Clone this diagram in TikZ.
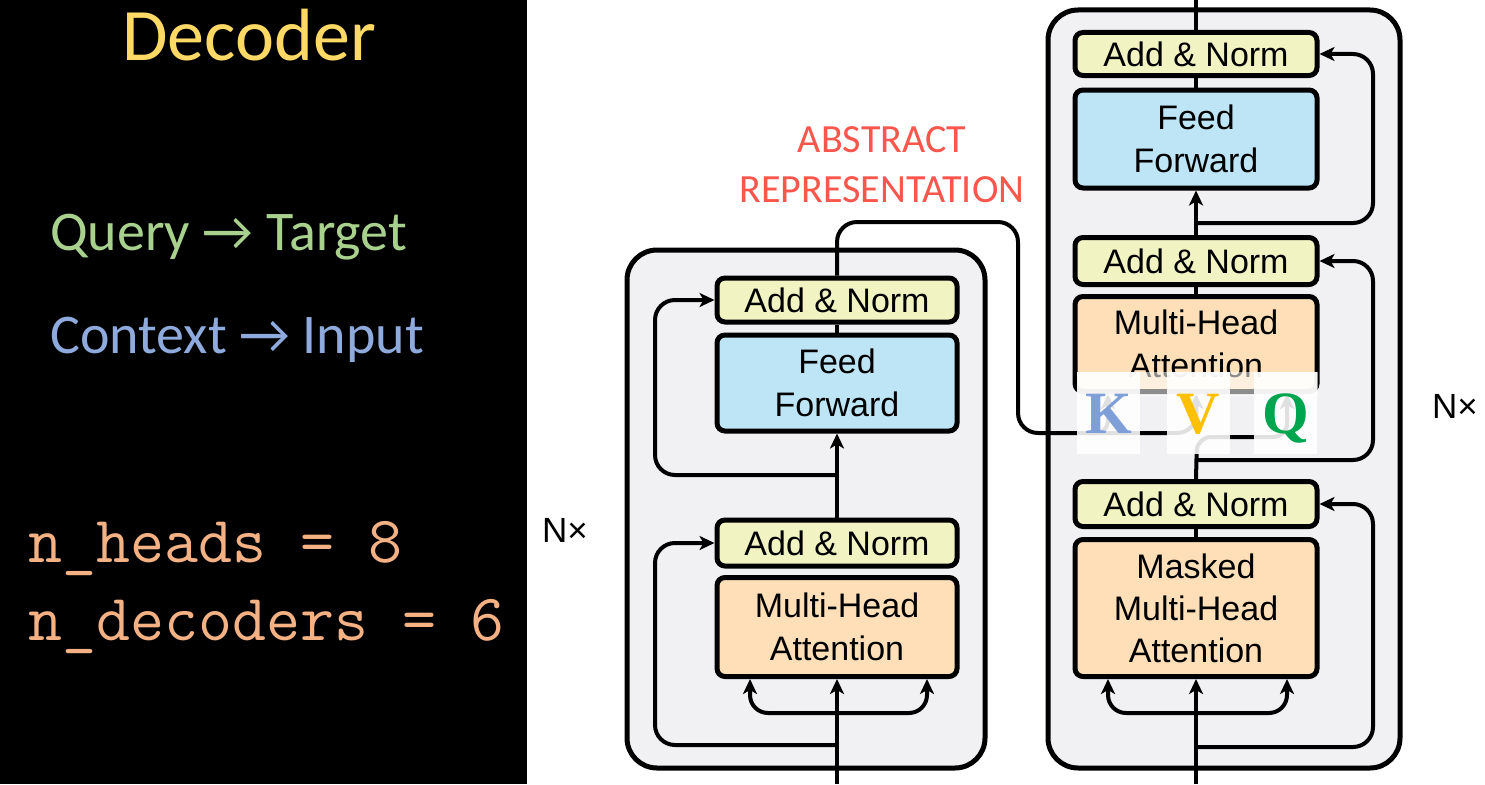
\documentclass[tikz,border=0pt]{standalone}
\usepackage{fontspec}
\setmainfont{Liberation Sans}
\newfontfamily\calib{Carlito}
\newfontfamily\serifbf{Liberation Serif}
\usetikzlibrary{arrows.meta,calc}
\definecolor{decy}{HTML}{FFD966}
\definecolor{qgreen}{HTML}{A9D18E}
\definecolor{cblue}{HTML}{8FAADC}
\definecolor{monoor}{HTML}{F4B183}
\definecolor{absred}{HTML}{F9564C}
\definecolor{blockbg}{HTML}{F1F1F3}
\definecolor{anfill}{HTML}{F1F4C2}
\definecolor{fffill}{HTML}{BEE5F6}
\definecolor{mhafill}{HTML}{FEDFB8}
\definecolor{kcol}{HTML}{7F9FD8}
\definecolor{vcol}{HTML}{FFC000}
\definecolor{qcol}{HTML}{00A550}
\tikzset{
  block/.style={draw=black, line width=5pt, fill=blockbg, rounded corners=30pt, inner sep=0pt},
  box/.style={draw=black, line width=5pt, rounded corners=8pt, align=center, inner sep=0pt,
    font=\fontsize{34}{43}\selectfont, minimum width=240pt},
  an/.style={box, fill=anfill, minimum height=44pt},
  ff/.style={box, fill=fffill, minimum height=96pt},
  mha/.style={box, fill=mhafill, minimum height=97pt},
  conn/.style={line width=4pt, line join=round},
  arr/.style={conn, -{Stealth[length=15pt,width=14pt,inset=4pt]}},
  kvq/.style={fill=white, fill opacity=0.88, text opacity=1, minimum width=63pt, minimum height=82pt,
    inner sep=0pt, text height=40pt, text depth=0pt, font=\serifbf\bfseries\fontsize{60}{62}\selectfont},
  nx/.style={font=\fontsize{35}{40}\selectfont, anchor=base west, inner sep=0pt},
  redtxt/.style={font=\calib\fontsize{40}{46}\selectfont, text=absred, anchor=base, inner sep=0pt},
  monotxt/.style={font=\ttfamily\fontsize{66}{68}\selectfont, text=monoor, anchor=base west, inner sep=0pt}
}
\begin{document}
\begin{tikzpicture}[x=1pt,y=-1pt]
\useasboundingbox (0,0) rectangle (1485,784);
\fill[white] (0,0) rectangle (1485,784);
\fill[black] (0,0) rectangle (527,784);

% left panel texts
\node[font=\calib\fontsize{74}{80}\selectfont, text=decy, anchor=base, inner sep=0pt] (ttl) at (249,60) {Decoder};
\node[font=\calib\fontsize{56}{60}\selectfont, text=qgreen, anchor=base west, inner sep=0pt] (qt) at (50,250) {Query → Target};
\node[font=\calib\fontsize{56}{60}\selectfont, text=cblue, anchor=base west, inner sep=0pt] (ci) at (50,353) {Context → Input};
\node[monotxt] (nh) at (28,562) {n\_heads = 8};
\node[monotxt] (nd) at (28,640) {n\_decoders = 6};

% blocks
\node[block, minimum width=358pt, minimum height=518pt] (lblock) at (806,509) {};
\node[block, minimum width=352pt, minimum height=758pt] (rblock) at (1224,389) {};

% left block boxes
\node[an] (lan1) at (837,300) {Add \& Norm};
\node[ff] (lff) at (837,383) {Feed\\Forward};
\node[an, minimum height=46pt] (lan2) at (837,543) {Add \& Norm};
\node[mha, minimum height=99pt] (lmha) at (837,627) {Multi-Head\\Attention};

% right block boxes
\node[an, minimum width=242pt, minimum height=43pt] (ran1) at (1196,54) {Add \& Norm};
\node[ff, minimum width=242pt, minimum height=98pt] (rff) at (1196,139) {Feed\\Forward};
\node[an, minimum width=242pt, minimum height=47pt] (ran2) at (1196,261) {Add \& Norm};
\node[mha, minimum width=242pt, minimum height=95pt] (rmha) at (1196,344) {Multi-Head\\Attention};
\node[an, minimum width=242pt, minimum height=45pt] (ran3) at (1196,504) {Add \& Norm};
\node[mha, minimum width=242pt, minimum height=137pt, font=\fontsize{34}{42}\selectfont] (rmmha) at (1196,608) {Masked\\Multi-Head\\Attention};

% left connectors
\coordinate (lin) at (837,784);
\coordinate (lfk) at (837,713);
\coordinate (lr1) at (837,745);
\coordinate (lr2) at (837,475);
\draw[arr] (lin) -- (lmha.south);
\draw[arr, rounded corners=18pt] (lfk) -| ([xshift=-87pt]lmha.south);
\draw[arr, rounded corners=18pt] (lfk) -| ([xshift=90pt]lmha.south);
\draw[arr, rounded corners=20pt] (lr1) -- (655,745) |- (lan2.west);
\draw[arr] (lan2.north) -- (lff.south);
\draw[arr, rounded corners=20pt] (lr2) -- (655,475) |- (lan1.west);
\draw[conn] (lff.north) -- (lan1.south);

% encoder output to decoder
\draw[arr, rounded corners=20pt] (lan1.north) -- (837,222) -- (1018,222) -- (1018,433) -- (1197,433) -- (rmha.south);
\draw[arr, rounded corners=12pt] (1090,433) -- (1108,433) -- ([xshift=-88pt]rmha.south);

% right connectors
\coordinate (rin) at (1196,784);
\coordinate (rfk) at (1196,713);
\coordinate (rr1) at (1196,747);
\coordinate (rr2) at (1196,460);
\coordinate (rr3) at (1196,223);
\coordinate (rout) at (1196,0);
\draw[arr] (rin) -- (rmmha.south);
\draw[arr, rounded corners=18pt] (rfk) -| ([xshift=-88pt]rmmha.south);
\draw[arr, rounded corners=18pt] (rfk) -| ([xshift=91pt]rmmha.south);
\draw[arr, rounded corners=20pt] (rr1) -- (1373,747) |- (ran3.east);
\draw[conn] (rmmha.north) -- (ran3.south);
\draw[arr, rounded corners=14pt] (ran3.north) -- (1197,437) -- (1287,437) -- ([xshift=91pt]rmha.south);
\draw[arr, rounded corners=20pt] (rr2) -- (1373,460) |- (ran2.east);
\draw[conn] (rmha.north) -- (ran2.south);
\draw[arr] (ran2.north) -- (rff.south);
\draw[arr, rounded corners=20pt] (rr3) -- (1373,223) |- (ran1.east);
\draw[conn] (rff.north) -- (ran1.south);
\draw[conn] (ran1.north) -- (rout);

% K V Q overlay
\fill[white, opacity=0.55] (1077,372) rectangle (1318,396);
\node[kvq, text=kcol] (kk) at (1108.5,413) {K};
\node[kvq, text=vcol] (vv) at (1198.5,413) {V};
\node[kvq, text=qcol] (qq) at (1285.5,413) {Q};

% labels
\node[redtxt] (abs1) at (882,152) {ABSTRACT};
\node[redtxt] (abs2) at (882,202) {REPRESENTATION};
\node[nx] (nxl) at (542,542) {N×};
\node[nx] (nxr) at (1432,418) {N×};
\end{tikzpicture}
\end{document}
